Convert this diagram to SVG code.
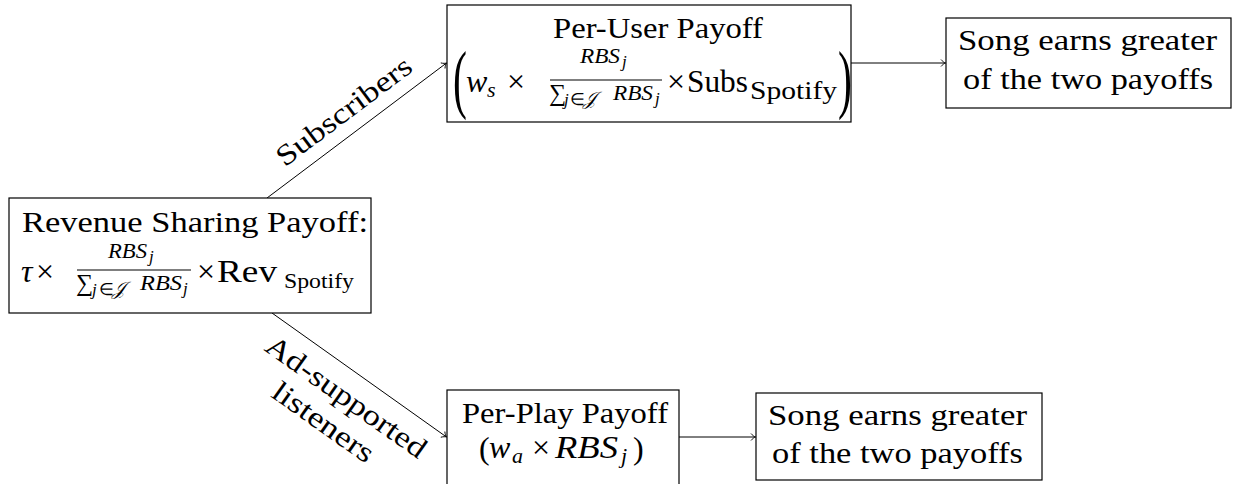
<svg xmlns="http://www.w3.org/2000/svg" width="1233" height="484" viewBox="0 0 1233 484">
<defs>
<style>
.t{font-family:"Liberation Serif","Times New Roman",serif;font-size:29px;fill:#000}
.m{font-size:32px}
.i{font-style:italic}
.s{font-size:22px}
.ss{font-size:17px}
.sum{font-size:24px}
.box{fill:#fff;stroke:#000;stroke-width:1.2}
.bar{stroke:#000;stroke-width:1.1}
.edge{stroke:#000;stroke-width:1;fill:none;marker-end:url(#arr)}
</style>
<marker id="arr" markerUnits="userSpaceOnUse" markerWidth="12" markerHeight="12" viewBox="-6 -6 12 12" refX="0" refY="0" orient="auto">
<path d="M-4.5,-3.5 C-3,-1.6 -1.2,-0.4 0,0 C-1.2,0.4 -3,1.6 -4.5,3.5" fill="none" stroke="#000" stroke-width="0.9"/>
</marker>
</defs>
<rect width="1233" height="484" fill="#fff"/>

<g id="connectors">
<line class="edge" x1="267" y1="198" x2="446.5" y2="63"/>
<line class="edge" x1="272" y1="313" x2="446.5" y2="437"/>
<line class="edge" x1="851" y1="63" x2="945.5" y2="63"/>
<line class="edge" x1="679" y1="437" x2="755.5" y2="437"/>
<g transform="translate(358,130) rotate(-36.87)">
<text class="t" x="0" y="-14" text-anchor="middle" textLength="162" lengthAdjust="spacingAndGlyphs">Subscribers</text>
</g>
<g transform="translate(361,376) rotate(35.3)">
<text class="t" x="0" y="35" text-anchor="middle" textLength="190" lengthAdjust="spacingAndGlyphs">Ad-supported</text>
<text class="t" x="-4" y="69" text-anchor="middle" textLength="118" lengthAdjust="spacingAndGlyphs">listeners</text>
</g>
</g>

<g id="revenue">
<rect class="box" x="9" y="198" width="362" height="115"/>
<text class="t" x="22" y="232" textLength="346" lengthAdjust="spacingAndGlyphs">Revenue Sharing Payoff:</text>
<text class="t m i" x="21" y="282">τ</text>
<text class="t m" x="45" y="282" text-anchor="middle">×</text>
<text class="t i s" x="108" y="258" textLength="39" lengthAdjust="spacingAndGlyphs">RBS</text>
<text class="t i ss" x="149" y="262">j</text>
<line class="bar" x1="77" y1="270" x2="191" y2="270"/>
<text class="t sum" x="76" y="291">∑</text>
<text class="t i ss" x="92" y="295">j</text>
<text class="t ss" x="99" y="295">∈</text>
<text class="t i" x="112" y="295" style="font-size:19px">𝒥</text>
<text class="t i s" x="140" y="290" textLength="42" lengthAdjust="spacingAndGlyphs">RBS</text>
<text class="t i ss" x="183" y="294">j</text>
<text class="t m" x="206" y="282" text-anchor="middle">×</text>
<text class="t m" x="217" y="282" textLength="60" lengthAdjust="spacingAndGlyphs">Rev</text>
<text class="t s" x="284" y="288" textLength="70" lengthAdjust="spacingAndGlyphs">Spotify</text>
</g>

<g id="peruser">
<rect class="box" x="447" y="5" width="404" height="117"/>
<text class="t" x="553" y="38" textLength="210" lengthAdjust="spacingAndGlyphs">Per-User Payoff</text>
<text class="t" transform="translate(453,104) scale(0.55,1)" style="font-size:76px">(</text>
<text class="t m i" x="466" y="92">w</text>
<text class="t i s" x="487" y="97">s</text>
<text class="t m" x="516" y="92" text-anchor="middle">×</text>
<text class="t i s" x="580" y="63" textLength="40" lengthAdjust="spacingAndGlyphs">RBS</text>
<text class="t i ss" x="622" y="67">j</text>
<line class="bar" x1="550" y1="80" x2="662" y2="80"/>
<text class="t sum" x="549" y="101">∑</text>
<text class="t i ss" x="564" y="105">j</text>
<text class="t ss" x="570" y="105">∈</text>
<text class="t i" x="583" y="105" style="font-size:19px">𝒥</text>
<text class="t i s" x="613" y="100" textLength="40" lengthAdjust="spacingAndGlyphs">RBS</text>
<text class="t i ss" x="655" y="104">j</text>
<text class="t m" x="676" y="92" text-anchor="middle">×</text>
<text class="t m" x="687" y="92" textLength="61" lengthAdjust="spacingAndGlyphs">Subs</text>
<text class="t" x="750" y="99" style="font-size:26px" textLength="87" lengthAdjust="spacingAndGlyphs">Spotify</text>
<text class="t" transform="translate(838,104) scale(0.55,1)" style="font-size:76px">)</text>
</g>

<g id="song-top">
<rect class="box" x="946" y="18" width="285" height="90"/>
<text class="t" x="958" y="50" textLength="259" lengthAdjust="spacingAndGlyphs">Song earns greater</text>
<text class="t" x="963" y="89" textLength="250" lengthAdjust="spacingAndGlyphs">of the two payoffs</text>
</g>

<g id="perplay">
<rect class="box" x="447" y="390" width="232" height="100"/>
<text class="t" x="462" y="423" textLength="206" lengthAdjust="spacingAndGlyphs">Per-Play Payoff</text>
<text class="t m" x="479" y="459">(</text>
<text class="t m i" x="489" y="458">w</text>
<text class="t i s" x="512" y="463">a</text>
<text class="t m" x="541" y="458" text-anchor="middle">×</text>
<text class="t m i" x="555" y="458" textLength="63" lengthAdjust="spacingAndGlyphs">RBS</text>
<text class="t i s" x="621" y="463">j</text>
<text class="t m" x="633" y="459">)</text>
</g>

<g id="song-bottom">
<rect class="box" x="756" y="393" width="286" height="87"/>
<text class="t" x="768" y="425" textLength="259" lengthAdjust="spacingAndGlyphs">Song earns greater</text>
<text class="t" x="772" y="463" textLength="251" lengthAdjust="spacingAndGlyphs">of the two payoffs</text>
</g>
</svg>
